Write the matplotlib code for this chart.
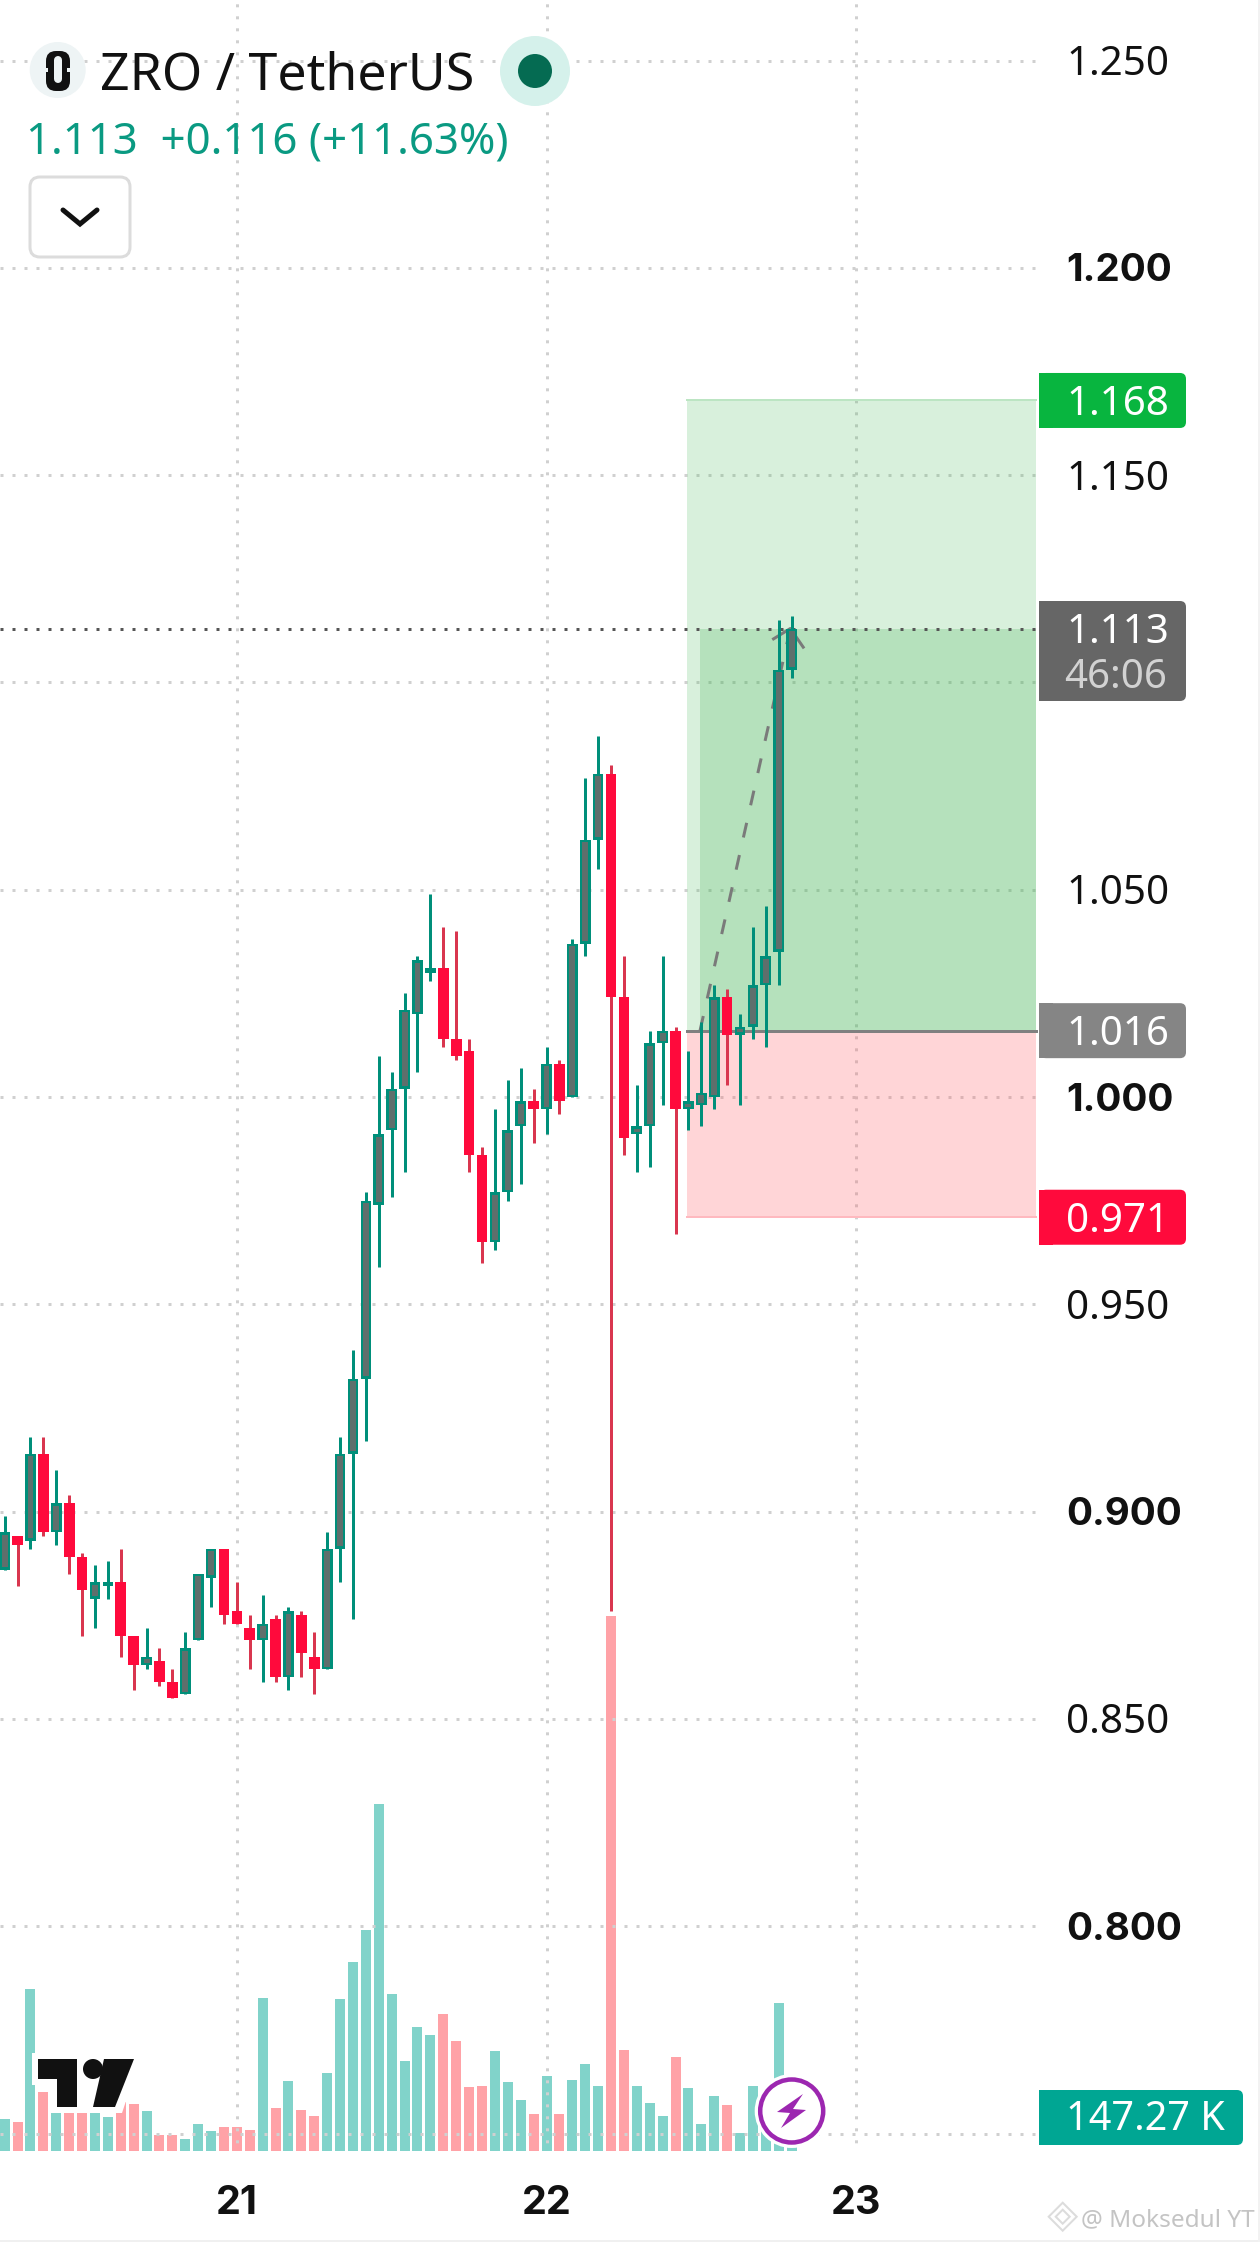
import matplotlib
matplotlib.use("Agg")
import matplotlib.pyplot as plt
import numpy as np
from matplotlib.patches import Circle, FancyBboxPatch, Polygon, Rectangle
from matplotlib.transforms import blended_transform_factory

plt.rcParams["font.family"] = ["Noto Sans", "DejaVu Sans"]

WIDTH, HEIGHT = 1260, 2242

# hourly candles
opens = [0.886, 0.894, 0.893, 0.914, 0.895, 0.902, 0.889, 0.879, 0.882, 0.883, 0.870,
         0.863, 0.864, 0.859, 0.856, 0.869, 0.884, 0.891, 0.876, 0.872, 0.869, 0.874,
         0.860, 0.875, 0.865, 0.862, 0.891, 0.914, 0.932, 0.974, 0.992, 1.002, 1.020,
         1.030, 1.031, 1.014, 1.011, 0.986, 0.965, 0.977, 0.993, 0.999, 0.997, 1.008,
         1.000, 1.037, 1.062, 1.078, 1.024, 0.991, 0.993, 1.013, 1.016, 0.997, 0.998,
         1.000, 1.024, 1.015, 1.017, 1.027, 1.035, 1.103]
highs = [0.899, 0.894, 0.918, 0.918, 0.910, 0.904, 0.890, 0.887, 0.888, 0.891, 0.870,
         0.872, 0.867, 0.862, 0.871, 0.885, 0.891, 0.891, 0.883, 0.875, 0.880, 0.875,
         0.877, 0.876, 0.871, 0.895, 0.918, 0.939, 0.977, 1.010, 1.006, 1.025, 1.034,
         1.049, 1.041, 1.040, 1.014, 0.988, 0.997, 1.004, 1.007, 1.002, 1.012, 1.009,
         1.038, 1.077, 1.087, 1.080, 1.034, 1.003, 1.016, 1.034, 1.017, 1.011, 1.018,
         1.027, 1.026, 1.020, 1.041, 1.046, 1.115, 1.116]
lows = [0.886, 0.882, 0.891, 0.894, 0.892, 0.885, 0.870, 0.872, 0.879, 0.865, 0.857,
        0.862, 0.858, 0.855, 0.856, 0.869, 0.877, 0.873, 0.873, 0.862, 0.859, 0.859,
        0.857, 0.860, 0.856, 0.862, 0.883, 0.874, 0.917, 0.959, 0.976, 0.982, 1.006,
        1.028, 1.012, 1.009, 0.982, 0.960, 0.963, 0.975, 0.979, 0.989, 0.991, 0.996,
        1.000, 1.034, 1.055, 0.876, 0.986, 0.982, 0.983, 0.998, 0.967, 0.992, 0.993,
        0.997, 1.003, 0.998, 1.014, 1.012, 1.027, 1.101]
closes = [0.895, 0.892, 0.914, 0.895, 0.902, 0.889, 0.881, 0.883, 0.883, 0.870, 0.863,
          0.865, 0.859, 0.855, 0.867, 0.885, 0.891, 0.875, 0.873, 0.869, 0.873, 0.860,
          0.876, 0.866, 0.862, 0.891, 0.914, 0.932, 0.975, 0.991, 1.002, 1.021, 1.033,
          1.031, 1.014, 1.010, 0.986, 0.965, 0.977, 0.992, 0.999, 0.997, 1.008, 0.999,
          1.037, 1.062, 1.078, 1.024, 0.990, 0.993, 1.013, 1.016, 0.997, 0.999, 1.001,
          1.024, 1.015, 1.017, 1.027, 1.034, 1.103, 1.113]
# volume in thousands
volumes = [95, 86, 484, 176, 112, 112, 112, 112, 101, 147, 140, 119, 47, 47, 35, 80,
           59, 71, 71, 62, 458, 128, 209, 122, 104, 233, 455, 566, 662, 1040, 470, 269,
           371, 347, 410, 329, 191, 194, 299, 206, 152, 110, 224, 110, 212, 260, 194,
           1604, 302, 194, 143, 104, 281, 188, 80, 164, 137, 53, 194, 160, 443, 147]

price_ticks = [1.25, 1.20, 1.15, 1.10, 1.05, 1.00, 0.95, 0.90, 0.85, 0.80, 0.75]
price_labels = {1.25: "1.250", 1.20: "1.200", 1.15: "1.150", 1.05: "1.050", 1.00: "1.000",
                0.95: "0.950", 0.90: "0.900", 0.85: "0.850", 0.80: "0.800"}
bold_prices = [1.20, 1.00, 0.90, 0.80]
day_positions = [18, 42, 66]
day_labels = ["21", "22", "23"]

entry_price = 1.016
target_price = 1.168
stop_price = 0.971
last_price = 1.113
box_start = 52.9
fill_start = 53.9
box_end = 79.95
arrow_x = [53.9, 60.9]
arrow_y = [1.016, 1.113]
arrow_wing_x = [59.6, 60.9, 61.9]
arrow_wing_y = [1.1105, 1.113, 1.1085]

GREEN = "#008f7a"
GREEN_INNER = "#5f6f6c"
RED = "#ff0a3c"
RED_WICK = "#d9364f"
GRID = "#d0d0d0"
PX = 72 / 100  # one pixel in points

# the price and bar scales fill the whole picture
p_top = 1 + 1097 / 4146
p_bottom = 1 - (HEIGHT - 1097) / 4146


def price_to_px(p):
    return (p_top - p) / (p_top - p_bottom) * HEIGHT


fig = plt.figure(figsize=(WIDTH / 100, HEIGHT / 100), dpi=100, facecolor="white")
ax = fig.add_axes([0, 0, 1, 1])
ax.set_xlim(-4.7 / 12.9, (WIDTH - 4.7) / 12.9)
ax.set_ylim(p_bottom, p_top)
ax.axis("off")

x = np.arange(len(opens))
opens_a, highs_a, lows_a, closes_a = map(np.array, (opens, highs, lows, closes))
up = closes_a >= opens_a

# grid
for p in price_ticks:
    ax.plot([ax.get_xlim()[0], box_end], [p, p], color=GRID, lw=3 * PX,
            linestyle=(0, (1, 3)), dash_capstyle="butt", zorder=1)
for d in day_positions:
    ax.plot([d, d], [p_top, 0.7472], color=GRID, lw=3 * PX,
            linestyle=(2.73, (1, 3)), dash_capstyle="butt", zorder=1)

# volume pane shares the x axis and has its own scale
ax_vol = ax.twinx()
ax_vol.set_ylim(-273.9, 6452)
ax_vol.axis("off")
ax_vol.set_zorder(0)
ax.set_zorder(1)
ax.patch.set_visible(False)
ax_vol.bar(x, volumes, width=10 / 12.9, color=np.where(up, "#05a997", "#ff4751"), alpha=0.5)

# long position tool
ax.add_patch(Rectangle((box_start, entry_price), box_end - box_start, target_price - entry_price,
                       color="#4ebb60", alpha=0.22, lw=0, zorder=2))
ax.add_patch(Rectangle((fill_start, entry_price), box_end - fill_start, last_price - entry_price,
                       color="#39b04b", alpha=0.22, lw=0, zorder=2))
ax.add_patch(Rectangle((box_start, stop_price), box_end - box_start, entry_price - stop_price,
                       color="#ff5b62", alpha=0.25, lw=0, zorder=2))
ax.plot([box_start, box_end], [target_price] * 2, color="#bce5c3", lw=2 * PX, zorder=2)
ax.plot([box_start, box_end], [stop_price] * 2, color="#ffb9bf", lw=2 * PX, zorder=2)
ax.plot([box_start, box_end], [entry_price] * 2, color="#808080", lw=3 * PX, zorder=3)
ax.plot(arrow_x, arrow_y, color="#7a7a7a", lw=3 * PX, linestyle=(0, (5, 6)),
        dash_capstyle="butt", zorder=3)
ax.plot(arrow_wing_x, arrow_wing_y, color="#7a7a7a", lw=3 * PX, zorder=3)
ax.plot([ax.get_xlim()[0], box_end], [last_price] * 2, color="#555555", lw=3 * PX,
        linestyle=(0, (1, 3)), dash_capstyle="butt", zorder=3)

# candles
ax.vlines(x[up], lows_a[up], highs_a[up], color=GREEN, lw=3 * PX, zorder=4)
ax.vlines(x[~up], lows_a[~up], highs_a[~up], color=RED_WICK, lw=3 * PX, zorder=4)
body_low = np.minimum(opens_a, closes_a)
body_high = np.maximum(opens_a, closes_a)
ax.bar(x[~up], (body_high - body_low)[~up], bottom=body_low[~up], width=0.83, color=RED, zorder=5)
ax.bar(x[up], np.maximum(body_high - body_low, 0.0006)[up], bottom=body_low[up], width=0.83,
       color=GREEN, zorder=5)
inset = 0.0006
inner = up & (body_high - body_low > 2 * inset)
ax.bar(x[inner], (body_high - body_low)[inner] - 2 * inset, bottom=body_low[inner] + inset,
       width=0.46, color=GREEN_INNER, zorder=6)

# everything around the chart is placed in pixels on a second layer
ui = fig.add_axes([0, 0, 1, 1], zorder=5)
ui.set_xlim(0, WIDTH)
ui.set_ylim(HEIGHT, 0)
ui.axis("off")
ui.patch.set_visible(False)


def price_tag(y0, y1, color, x1=1186):
    ui.add_patch(FancyBboxPatch((1046, y0 + 6), x1 - 1052, y1 - y0 - 12, boxstyle="round,pad=6",
                                fc=color, ec="none"))
    ui.add_patch(Rectangle((1039, y0), 14, y1 - y0, fc=color, ec="none"))


for p, label in price_labels.items():
    if p in bold_prices:
        ui.text(1066, price_to_px(p) - 0.5, label, fontsize=27.8, family="Inter",
                fontweight="bold", color="#111111", va="center_baseline", ha="left")
    else:
        ui.text(1066, price_to_px(p) - 0.5, label, fontsize=29, color="#111111",
                va="center_baseline", ha="left")

for d, label in zip(day_positions, day_labels):
    ui.text(d, 2200, label, transform=blended_transform_factory(ax.transData, ui.transData),
            fontsize=28.5, family="Inter", fontweight="bold", color="#111111",
            ha="center", va="center_baseline")

for p, label, color in [(target_price, "1.168", "#08b53f"), (entry_price, "1.016", "#858585"),
                        (stop_price, "0.971", RED)]:
    y = price_to_px(p)
    price_tag(y - 27.5, y + 27.5, color)
    ui.text(1066, y - 0.5, label, fontsize=29, color="#ffffff", va="center_baseline", ha="left")

price_tag(601, 701, "#666666")
ui.text(1066, 628, "1.113", fontsize=29, color="#ffffff", va="center_baseline", ha="left")
ui.text(1064, 673, "46:06", fontsize=29, color="#d2d2d2", va="center_baseline", ha="left")
price_tag(2090, 2145, "#00a693", x1=1243)
ui.text(1066, 2115, "147.27 K", fontsize=28.5, color="#ffffff", va="center_baseline", ha="left")

# header
ui.add_patch(Circle((57.7, 70), 28, fc="#eef4f5", ec="none"))
ui.add_patch(FancyBboxPatch((52, 57), 12, 28, boxstyle="round,pad=6,rounding_size=10", fc="#111111", ec="none"))
ui.plot([58, 58], [60, 79], color="#eef4f5", lw=8 * PX, solid_capstyle="round")
ui.add_patch(Rectangle((43, 68), 5, 4, fc="#eef4f5", ec="none"))
ui.add_patch(Rectangle((67, 68), 5, 4, fc="#eef4f5", ec="none"))
ui.text(100, 70, "ZRO / TetherUS", fontsize=37.3, color="#111111", va="center_baseline", ha="left")
ui.add_patch(Circle((535, 71), 35, fc="#d5f1eb", ec="none"))
ui.add_patch(Circle((535, 71), 17, fc="#056b52", ec="none"))
ui.text(26, 137, "1.113  +0.116 (+11.63%)", fontsize=31.6, color="#0a9a82",
        va="center_baseline", ha="left")
ui.add_patch(FancyBboxPatch((40, 187), 80, 60, boxstyle="round,pad=10", fc="white", ec="#dcdcdc", lw=3 * PX))
ui.plot([63, 80, 97], [210, 224, 210], color="#111111", lw=5 * PX, solid_joinstyle="miter",
        solid_capstyle="round")

# tradingview logo with its white halo
ui.add_patch(Polygon([(32, 2053), (142, 2053), (122, 2113), (51, 2113), (51, 2085), (32, 2085)],
                     fc="white", ec="none"))
ui.add_patch(Polygon([(38, 2059), (77, 2059), (77, 2107), (57, 2107), (57, 2079), (38, 2079)],
                     fc="#111111", ec="none"))
ui.add_patch(Circle((93, 2069), 10, fc="#111111", ec="none"))
ui.add_patch(Polygon([(104, 2059), (134, 2059), (115, 2107), (93, 2107)], fc="#111111", ec="none"))

# lightning button
ui.add_patch(Circle((791.7, 2111), 37, fc="white", ec="none"))
ui.add_patch(Circle((791.7, 2111), 31.5, fc="white", ec="#9c27b0", lw=4.5 * PX))
ui.add_patch(Polygon([(803, 2094), (777, 2112), (790, 2113), (781, 2128), (806, 2110), (793, 2109)],
                     fc="#9c27b0", ec="none"))

# watermark
for r in (14, 7):
    ui.add_patch(Polygon([(1062.7 - r, 2216.7), (1062.7, 2216.7 - r), (1062.7 + r, 2216.7), (1062.7, 2216.7 + r)],
                         fc="none", ec="#dcdcdc", lw=2 * PX))
ui.text(1081, 2217, "@ Moksedul YT", fontsize=17.5, color="#c4c4c4", va="center_baseline", ha="left")
ui.plot([0, WIDTH], [2240.5, 2240.5], color="#f0f0f0", lw=2 * PX)
ui.plot([1259, 1259], [0, HEIGHT], color="#f2f2f2", lw=2 * PX)

fig.savefig("out.png", dpi=100)
